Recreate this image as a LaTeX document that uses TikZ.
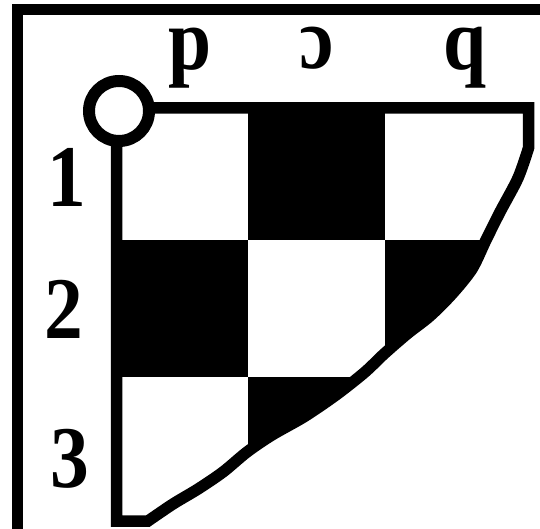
\documentclass[tikz,border=0pt]{standalone}
\usepackage{fontspec}
\setmainfont{Liberation Serif}
\newfontfamily\labfont[FakeStretch=0.88]{Liberation Serif Bold}
\begin{document}
\begin{tikzpicture}[x=1pt,y=-1pt,line join=miter,
  thick line/.style={line width=11.5pt},
  lab/.style={font=\labfont\fontsize{88}{88}\selectfont,inner sep=0pt,anchor=base}]
\useasboundingbox (0,0) rectangle (540,529);
\fill[white] (0,0) rectangle (540,529);
% outer frame
\draw[line width=11pt] (17.5,529) -- (17.5,9.5) -- (540,9.5);
% checker cells clipped by the shape
\begin{scope}
\clip (116.5,108) -- (528.5,108) -- plot[smooth] coordinates {(528.5,148) (518,178) (500,212) (486,240) (472,269) (452,294) (430,316) (407,334) (384,354) (364.5,372.5) (336,395) (304.5,416.5) (272,435) (247,452) (223,472) (198,489) (173,504) (148,521)} -- (116.5,521) -- cycle;
\fill (248,100) rectangle (385,240);
\fill (100,240) rectangle (248,377);
\fill (385,240) rectangle (545,377);
\fill (248,377) rectangle (385,535);
\end{scope}
% outline
\draw[thick line] (116.5,108) -- (528.5,108) -- plot[smooth] coordinates {(528.5,148) (518,178) (500,212) (486,240) (472,269) (452,294) (430,316) (407,334) (384,354) (364.5,372.5) (336,395) (304.5,416.5) (272,435) (247,452) (223,472) (198,489) (173,504) (148,521)} -- (116.5,521) -- cycle;
% ring at the corner
\node[circle,draw,fill=white,line width=12pt,minimum size=60pt,inner sep=0pt] (ring) at (119,111) {};
% column labels
\node[lab] (colp) at (190,70) {p};
\node[lab] (colo) at (316.5,69) {ɔ};
\node[lab] (colq) at (465,70) {q};
% row labels
\node[lab] (row1) at (66.5,206.5) {1};
\node[lab] (row2) at (64,338) {2};
\node[lab] (row3) at (69.5,487) {3};
\end{tikzpicture}
\end{document}
